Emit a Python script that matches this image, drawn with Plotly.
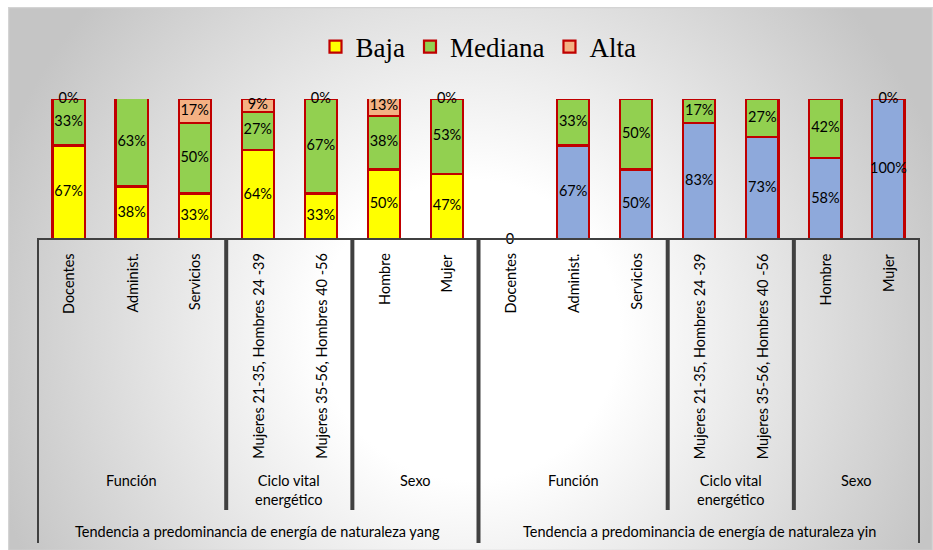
import base64
import plotly.graph_objects as go

# ---- data -----------------------------------------------------------------
categories = ["Docentes", "Administ.", "Servicios",
              "Mujeres 21-35, Hombres 24 -39", "Mujeres 35-56, Hombres 40 -56",
              "Hombre", "Mujer"]
subgroups = ["Función", "Ciclo vital<br>energético", "Sexo"]
subgroup_sizes = [3, 2, 2]
groups = ["Tendencia a predominancia de energía de naturaleza yang",
          "Tendencia a predominancia de energía de naturaleza yin"]

yang_baja = [67, 38, 33, 64, 33, 50, 47]
yang_mediana = [33, 63, 50, 27, 67, 38, 53]
yang_alta = [0, 0, 17, 9, 0, 13, 0]

yin_baja = [0, 67, 50, 83, 73, 58, 100]
yin_mediana = [0, 33, 50, 17, 27, 42, 0]

# ---- styling --------------------------------------------------------------
W, H = 933, 550
ML, MR, MT, MB = 37, 13, 99, 310
PW, PH = W - ML - MR, H - MT - MB
C_BAJA, C_MED, C_ALTA, C_YIN = "#FFFF00", "#92D050", "#F4B183", "#8EA9DB"
EDGE = "#C00000"
AXIS = "#404040"
HALF = 2  # half thickness of the axis rules, px
SANS = "Lato"
LBL = 14.5


def py(pix):
    """pixel row -> paper y"""
    return (H - MB - pix) / PH


n = len(categories)
x_yang = list(range(n))
x_yin = [i + n for i in range(n)]

fig = go.Figure()


def add_bar(x, y, color, name, show):
    fig.add_trace(go.Bar(
        x=x, y=y, width=0.51, name=name, showlegend=show, legendgroup=name,
        marker=dict(color=color, line=dict(color=EDGE, width=2.2)),
        hoverinfo="skip"))


add_bar(x_yang, yang_baja, C_BAJA, "Baja", True)
add_bar(x_yang, yang_mediana, C_MED, "Mediana", True)
add_bar(x_yang, yang_alta, C_ALTA, "Alta", True)
add_bar(x_yin, yin_baja, C_YIN, "Baja", False)
add_bar(x_yin, yin_mediana, C_MED, "Mediana", False)

# ---- value labels at segment midpoints ------------------------------------
lx, ly, lt = [], [], []
for i in range(n):
    b, m, a = yang_baja[i], yang_mediana[i], yang_alta[i]
    for base, v in ((0, b), (b, m), (b + m, a)):
        lx.append(x_yang[i]); ly.append(base + v / 2); lt.append(f"{v}%")
for i in range(n):
    b, m = yin_baja[i], yin_mediana[i]
    if b + m == 0:
        lx.append(x_yin[i]); ly.append(0); lt.append(f"{b}")
        continue
    for base, v in ((0, b), (b, m)):
        lx.append(x_yin[i]); ly.append(base + v / 2); lt.append(f"{v}%")

fig.add_trace(go.Scatter(
    x=lx, y=ly, text=lt, mode="text", showlegend=False, hoverinfo="skip",
    cliponaxis=False, textfont=dict(family=SANS, size=LBL, color="#000000")))


# ---- hierarchical category axis -------------------------------------------
def vrule(xpos, bottom_pix):
    return dict(type="rect", xref="x", yref="paper", xsizemode="pixel",
                xanchor=xpos, x0=-HALF, x1=HALF, y0=0, y1=py(bottom_pix),
                fillcolor=AXIS, line=dict(width=0), layer="above")


shapes = [dict(type="rect", xref="x", yref="y", ysizemode="pixel", yanchor=0,
               x0=-0.5, x1=2 * n - 0.5, y0=-HALF, y1=HALF,
               fillcolor=AXIS, line=dict(width=0), layer="above")]
annotations = []

for g, gname in enumerate(groups):
    off = g * n
    for i, cat in enumerate(categories):
        annotations.append(dict(
            x=off + i, y=py(251), xref="x", yref="paper", text=cat,
            textangle=-90, xanchor="center", yanchor="top", showarrow=False,
            font=dict(family=SANS, size=LBL, color="#000000")))
    start = off
    for sname, size in zip(subgroups, subgroup_sizes):
        annotations.append(dict(
            x=start + (size - 1) / 2, y=py(470), xref="x", yref="paper",
            text=sname, xanchor="center", yanchor="top", showarrow=False,
            font=dict(family=SANS, size=LBL, color="#000000")))
        start += size
        if start < off + n:
            shapes.append(vrule(start - 0.5, 510))
    annotations.append(dict(
        x=off + (n - 1) / 2, y=py(531), xref="x", yref="paper", text=gname,
        xanchor="center", yanchor="middle", showarrow=False,
        font=dict(family=SANS, size=LBL, color="#000000")))

for xb in (-0.5, n - 0.5, 2 * n - 0.5):
    shapes.append(vrule(xb, 543))

# ---- chart area background (radial shading) -------------------------------
BX0, BY0 = 8, 7
BW, BH = W - BX0, H - BY0
svg = (
    f'<svg xmlns="http://www.w3.org/2000/svg" width="{BW}" height="{BH}" '
    f'viewBox="0 0 {BW} {BH}"><defs><radialGradient id="g" '
    f'gradientUnits="userSpaceOnUse" cx="462" cy="323" r="500">'
    f'<stop offset="0.3" stop-color="#ffffff"/>'
    f'<stop offset="1" stop-color="#c5c5c5"/></radialGradient></defs>'
    f'<rect x="0" y="0" width="{BW}" height="{BH}" fill="url(#g)"/>'
    f'<rect x="0.5" y="0.5" width="{BW - 1}" height="{BH}" fill="none" '
    f'stroke="#d4d4d4" stroke-width="1.5"/></svg>'
)
bg_src = "data:image/svg+xml;base64," + base64.b64encode(svg.encode()).decode()

fig.update_layout(
    width=W, height=H, autosize=False,
    margin=dict(l=ML, r=MR, t=MT, b=MB, pad=0),
    barmode="stack",
    paper_bgcolor="#ffffff", plot_bgcolor="rgba(0,0,0,0)",
    xaxis=dict(range=[-0.5, 2 * n - 0.5], visible=False, fixedrange=True),
    yaxis=dict(range=[0, 100], visible=False, fixedrange=True),
    legend=dict(orientation="h", x=0.5, xanchor="center", y=py(47),
                yanchor="middle", bgcolor="rgba(0,0,0,0)",
                font=dict(family="Liberation Serif", size=27, color="#000000"),
                itemclick=False, itemdoubleclick=False),
    shapes=shapes, annotations=annotations,
    images=[dict(source=bg_src, xref="paper", yref="paper",
                 x=(BX0 - ML) / PW, y=py(BY0), sizex=BW / PW, sizey=BH / PH,
                 xanchor="left", yanchor="top", sizing="stretch",
                 layer="below")],
    showlegend=True,
)

fig.write_html("out.html")
